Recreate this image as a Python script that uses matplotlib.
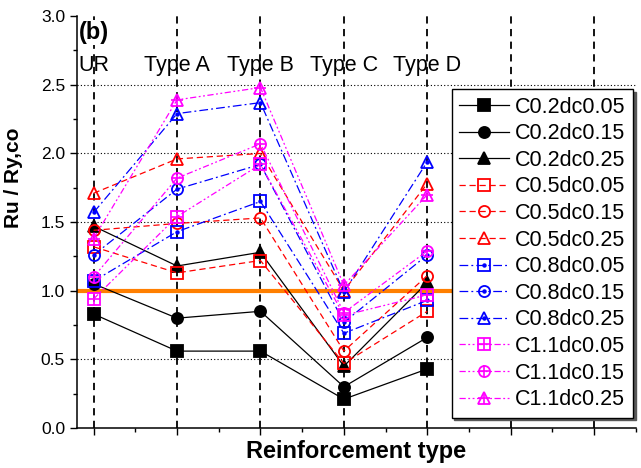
import matplotlib
matplotlib.use('Agg')

import matplotlib.pyplot as plt
from matplotlib.ticker import MultipleLocator, NullFormatter

plt.rcParams['font.family'] = ['Liberation Sans', 'DejaVu Sans']

# ===== 数据 =====
categories = ['UR', 'Type A', 'Type B', 'Type C', 'Type D']
labels = ['C0.2dc0.05', 'C0.2dc0.15', 'C0.2dc0.25',
          'C0.5dc0.05', 'C0.5dc0.15', 'C0.5dc0.25',
          'C0.8dc0.05', 'C0.8dc0.15', 'C0.8dc0.25',
          'C1.1dc0.05', 'C1.1dc0.15', 'C1.1dc0.25']

c02 = [[0.83, 0.56, 0.56, 0.21, 0.43],
       [1.05, 0.80, 0.85, 0.30, 0.66],
       [1.47, 1.18, 1.28, 0.45, 1.06]]
c05 = [[1.32, 1.13, 1.22, 0.47, 0.85],
       [1.44, 1.49, 1.53, 0.56, 1.11],
       [1.71, 1.96, 2.00, 1.00, 1.78]]
c08 = [[1.07, 1.43, 1.65, 0.69, 0.93],
       [1.26, 1.74, 1.92, 0.77, 1.26],
       [1.57, 2.29, 2.37, 0.99, 1.94]]
c11 = [[0.94, 1.54, 1.92, 0.82, 0.97],
       [1.10, 1.82, 2.07, 0.84, 1.29],
       [1.38, 2.39, 2.48, 1.04, 1.70]]

x = list(range(len(categories)))

fig = plt.figure(figsize=(6.41, 4.68), dpi=100)
ax = fig.add_axes([0.120, 0.0855, 0.872, 0.880])

# ===== 背景线 =====
for yv in [0.5, 1.0, 1.5, 2.0, 2.5]:
    ax.axhline(yv, color='black', lw=0.8, ls=(0, (1, 2)), zorder=1)
ax.vlines(range(7), 0, 3.0, colors='black', lw=1.3, linestyles=(0, (4, 3)), zorder=1)
ax.axhline(1.0, color='#ff7f00', lw=3, zorder=2)

# ===== 曲线 =====
markers = ['s', 'o', '^']
groups = [(c02, 'black', '-', None),
          (c05, 'red', (0, (5, 3)), None),
          (c08, 'blue', (0, (7, 2.5, 1.5, 2.5)), '.'),
          (c11, '#ff00ff', (0, (5, 2, 1.5, 2, 1.5, 2)), '+')]

handles = []
for data, color, ls, inner in groups:
    for vals, mk in zip(data, markers):
        filled = color == 'black'
        ln, = ax.plot(x, vals, color=color, ls=ls, lw=0.9, marker=mk, ms=8,
                      mfc=color if filled else 'none', mec=color, mew=1.3, zorder=3)
        if inner is None:
            handles.append(ln)
        else:
            dot, = ax.plot(x, vals, ls='none', marker=inner, color=color,
                           ms=4 if inner == '.' else 8, mew=1.2, zorder=3)
            handles.append((ln, dot))

# ===== 文字 =====
for xi, name in zip(x, categories):
    ax.text(xi, 2.64, name, ha='center', va='center', fontsize=15.5)
ax.text(-0.18, 2.88, '(b)', ha='left', va='center', fontsize=17, fontweight='bold',
        bbox=dict(facecolor='white', edgecolor='none', pad=0.5), zorder=4)

ax.set_xlim(-0.2, 6.5)
ax.set_ylim(0, 3.0)
ax.xaxis.set_major_locator(MultipleLocator(1))
ax.xaxis.set_minor_locator(MultipleLocator(0.5))
ax.xaxis.set_major_formatter(NullFormatter())
ax.yaxis.set_major_locator(MultipleLocator(0.5))
ax.yaxis.set_minor_locator(MultipleLocator(0.25))
ax.yaxis.set_major_formatter(plt.FormatStrFormatter('%.1f'))
ax.tick_params(which='major', direction='out', length=5, width=1, labelsize=12.5)
ax.tick_params(which='minor', direction='out', length=3, width=1)
for s in ['top', 'right']:
    ax.spines[s].set_visible(False)
ax.spines['left'].set_linewidth(1.1)
ax.spines['bottom'].set_linewidth(1.1)

ax.set_xlabel('Reinforcement type', fontsize=17, fontweight='bold', labelpad=0)
ax.set_ylabel('Ru / Ry,co', fontsize=15, fontweight='bold')
ax.yaxis.set_label_coords(-0.097, 0.607)

leg = ax.legend(handles, labels, loc='upper right', bbox_to_anchor=(0.995, 0.823),
                borderaxespad=0, fontsize=15.5, frameon=True, fancybox=False,
                edgecolor='black', handlelength=2.3, handletextpad=0.3,
                labelspacing=0.26, borderpad=0.35,
                shadow={'color': '0.35', 'alpha': 1.0})
leg.get_frame().set_linewidth(1.0)

fig.savefig('out.png', dpi=100)
